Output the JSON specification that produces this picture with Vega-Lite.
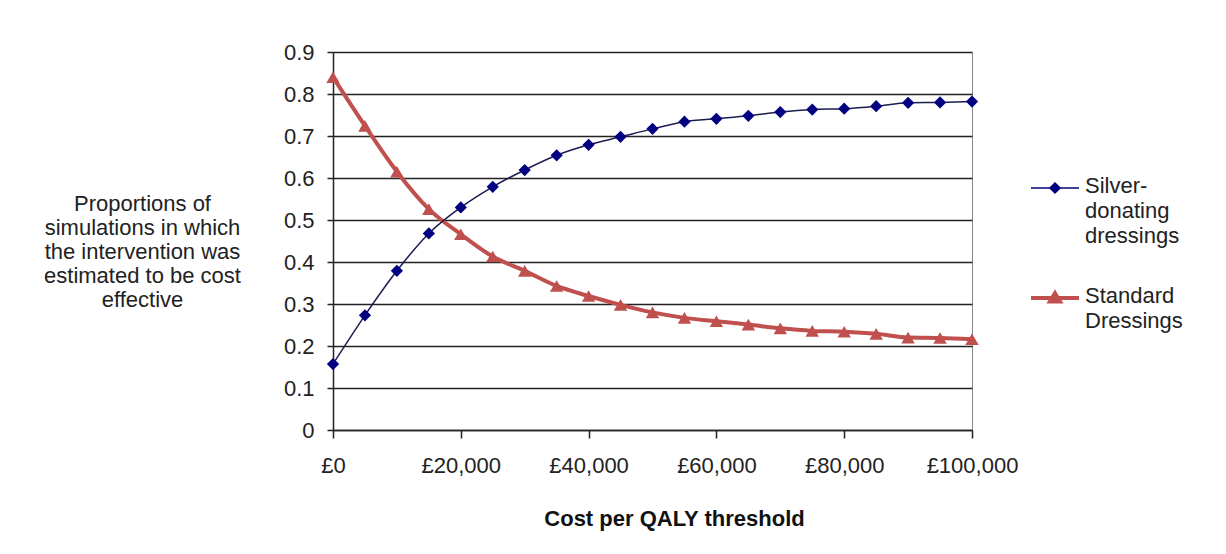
{
  "$schema": "https://vega.github.io/schema/vega-lite/v6.json",
  "width": 639,
  "height": 378,
  "autosize": {"type": "none"},
  "padding": {"left": 333, "top": 52, "right": 254, "bottom": 124},
  "background": "white",
  "config": {
    "font": "Liberation Sans",
    "view": {"stroke": "#888", "strokeWidth": 1}
  },
  "data": {
    "values": [
      {"x": 0, "p": 0.157, "s": "Silver-donating dressings"},
      {"x": 5000, "p": 0.273, "s": "Silver-donating dressings"},
      {"x": 10000, "p": 0.379, "s": "Silver-donating dressings"},
      {"x": 15000, "p": 0.468, "s": "Silver-donating dressings"},
      {"x": 20000, "p": 0.53, "s": "Silver-donating dressings"},
      {"x": 25000, "p": 0.579, "s": "Silver-donating dressings"},
      {"x": 30000, "p": 0.619, "s": "Silver-donating dressings"},
      {"x": 35000, "p": 0.654, "s": "Silver-donating dressings"},
      {"x": 40000, "p": 0.679, "s": "Silver-donating dressings"},
      {"x": 45000, "p": 0.698, "s": "Silver-donating dressings"},
      {"x": 50000, "p": 0.717, "s": "Silver-donating dressings"},
      {"x": 55000, "p": 0.734, "s": "Silver-donating dressings"},
      {"x": 60000, "p": 0.741, "s": "Silver-donating dressings"},
      {"x": 65000, "p": 0.748, "s": "Silver-donating dressings"},
      {"x": 70000, "p": 0.757, "s": "Silver-donating dressings"},
      {"x": 75000, "p": 0.763, "s": "Silver-donating dressings"},
      {"x": 80000, "p": 0.765, "s": "Silver-donating dressings"},
      {"x": 85000, "p": 0.771, "s": "Silver-donating dressings"},
      {"x": 90000, "p": 0.779, "s": "Silver-donating dressings"},
      {"x": 95000, "p": 0.78, "s": "Silver-donating dressings"},
      {"x": 100000, "p": 0.782, "s": "Silver-donating dressings"},
      {"x": 0, "p": 0.84, "s": "Standard Dressings"},
      {"x": 5000, "p": 0.724, "s": "Standard Dressings"},
      {"x": 10000, "p": 0.615, "s": "Standard Dressings"},
      {"x": 15000, "p": 0.526, "s": "Standard Dressings"},
      {"x": 20000, "p": 0.466, "s": "Standard Dressings"},
      {"x": 25000, "p": 0.413, "s": "Standard Dressings"},
      {"x": 30000, "p": 0.379, "s": "Standard Dressings"},
      {"x": 35000, "p": 0.343, "s": "Standard Dressings"},
      {"x": 40000, "p": 0.319, "s": "Standard Dressings"},
      {"x": 45000, "p": 0.298, "s": "Standard Dressings"},
      {"x": 50000, "p": 0.28, "s": "Standard Dressings"},
      {"x": 55000, "p": 0.267, "s": "Standard Dressings"},
      {"x": 60000, "p": 0.259, "s": "Standard Dressings"},
      {"x": 65000, "p": 0.251, "s": "Standard Dressings"},
      {"x": 70000, "p": 0.242, "s": "Standard Dressings"},
      {"x": 75000, "p": 0.236, "s": "Standard Dressings"},
      {"x": 80000, "p": 0.234, "s": "Standard Dressings"},
      {"x": 85000, "p": 0.229, "s": "Standard Dressings"},
      {"x": 90000, "p": 0.22, "s": "Standard Dressings"},
      {"x": 95000, "p": 0.219, "s": "Standard Dressings"},
      {"x": 100000, "p": 0.216, "s": "Standard Dressings"}
    ]
  },
  "encoding": {
    "x": {
      "field": "x",
      "type": "quantitative",
      "scale": {"domain": [0, 100000], "nice": false},
      "axis": {
        "values": [0, 20000, 40000, 60000, 80000, 100000],
        "labelExpr": "'£' + format(datum.value, ',')",
        "grid": false,
        "tickSize": 8,
        "tickColor": "#222",
        "tickWidth": 1.5,
        "domainColor": "#222",
        "domainWidth": 1.5,
        "labelFontSize": 22,
        "labelColor": "#222",
        "labelPadding": 17,
        "labelFlush": false,
        "title": "Cost per QALY threshold",
        "titleFontSize": 22,
        "titleFontWeight": "bold",
        "titleColor": "#111",
        "titleX": 341,
        "titleY": 88,
        "titleBaseline": "middle",
        "titleAnchor": "middle"
      }
    },
    "y": {
      "field": "p",
      "type": "quantitative",
      "scale": {"domain": [0, 0.9], "nice": false},
      "axis": {
        "values": [0, 0.1, 0.2, 0.3, 0.4, 0.5, 0.6, 0.7, 0.8, 0.9],
        "labelExpr": "format(datum.value, '.1~f')",
        "grid": true,
        "gridColor": "#222",
        "gridWidth": 1.5,
        "tickSize": 6,
        "tickColor": "#222",
        "tickWidth": 1.5,
        "domainColor": "#222",
        "domainWidth": 1.5,
        "labelFontSize": 22,
        "labelColor": "#222",
        "labelPadding": 13,
        "labelFlush": false,
        "title": ["Proportions of", "simulations in which", "the intervention was", "estimated to be cost", "effective"],
        "titleAngle": 0,
        "titleFontSize": 22,
        "titleFontWeight": "normal",
        "titleColor": "#222",
        "titleLineHeight": 24,
        "titleAlign": "center",
        "titleBaseline": "middle",
        "titleX": -191,
        "titleY": 151
      }
    }
  },
  "layer": [
    {
      "transform": [{"filter": "datum.s == 'Standard Dressings'"}],
      "mark": {"type": "line", "interpolate": "monotone", "color": "#C0504D", "strokeWidth": 4},
      "encoding": {}
    },
    {
      "transform": [{"filter": "datum.s == 'Standard Dressings'"}],
      "mark": {"type": "point", "shape": "triangle-up", "filled": true, "opacity": 1, "size": 180, "color": "#C0504D"},
      "encoding": {}
    },
    {
      "transform": [{"filter": "datum.s == 'Silver-donating dressings'"}],
      "mark": {"type": "line", "interpolate": "monotone", "color": "#1c1c50", "strokeWidth": 1.5},
      "encoding": {}
    },
    {
      "transform": [{"filter": "datum.s == 'Silver-donating dressings'"}],
      "mark": {"type": "point", "shape": "diamond", "filled": true, "opacity": 1, "size": 150, "color": "#000080"},
      "encoding": {}
    },
    {
      "mark": {"type": "point", "filled": true, "opacity": 0, "size": 1},
      "encoding": {
        "color": {
          "field": "s",
          "type": "nominal",
          "scale": {"domain": ["Silver-donating dressings", "Standard Dressings"], "range": ["#000080", "#C0504D"]},
          "legend": {
            "title": null,
            "orient": "none",
            "legendX": 711,
            "legendY": 125,
            "symbolSize": 2304,
            "labelOffset": 19,
            "labelFontSize": 22,
            "labelColor": "#222",
            "labelLimit": 300,
            "labelBaseline": "top",
            "rowPadding": 38,
            "labelExpr": "datum.label == 'Silver-donating dressings' ? ['Silver-', 'donating', 'dressings'] : ['Standard', 'Dressings']",
            "encode": {
              "symbols": {
                "update": {
                  "shape": {"signal": "datum.value == 'Silver-donating dressings' ? 'M-1,0H1M0,-0.21L0.21,0L0,0.21L-0.21,0Z' : 'M-1,0H1M0,-0.2L0.21,0.15L-0.21,0.15Z'"},
                  "strokeWidth": {"signal": "datum.value == 'Silver-donating dressings' ? 1.5 : 4"},
                  "stroke": {"signal": "datum.value == 'Silver-donating dressings' ? '#000080' : '#C0504D'"},
                  "fill": {"signal": "datum.value == 'Silver-donating dressings' ? '#000080' : '#C0504D'"},
                  "opacity": {"value": 1},
                  "fillOpacity": {"value": 1},
                  "strokeOpacity": {"value": 1}
                }
              },
              "labels": {
                "update": {
                  "dy": {"value": -12},
                  "lineHeight": {"value": 25}
                }
              }
            }
          }
        }
      }
    }
  ]
}
